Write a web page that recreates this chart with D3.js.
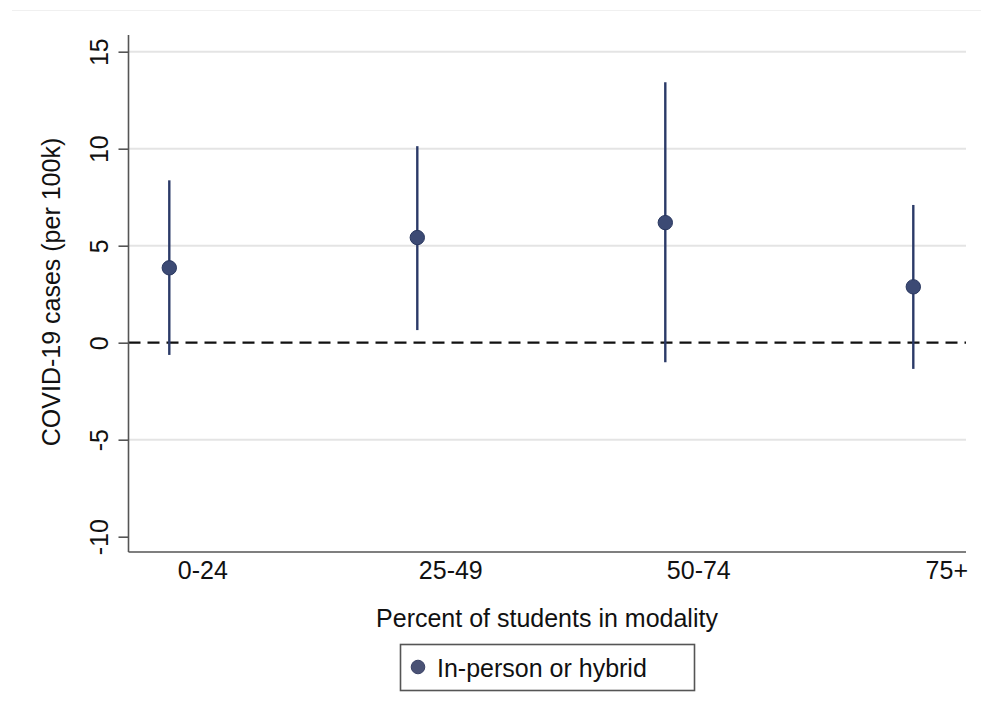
<!DOCTYPE html>
<html>
<head>
<meta charset="utf-8">
<script src="https://cdn.jsdelivr.net/npm/d3@7"></script>
<style>
  html, body { margin: 0; padding: 0; background: #ffffff; }
  svg { display: block; font-family: "Liberation Sans", Arial, sans-serif; }
</style>
</head>
<body>
<svg id="chart" width="981" height="719"></svg>
<script>
// ---- data ----
const categories = ["0-24", "25-49", "50-74", "75+"];
const estimates  = [3.86, 5.42, 6.19, 2.88];
const ciLower    = [-0.63, 0.65, -1.01, -1.35];
const ciUpper    = [8.37, 10.13, 13.43, 7.10];
const yTicks     = [-10, -5, 0, 5, 10, 15];
const gridTicks  = [-5, 5, 10, 15];
const seriesName = "In-person or hybrid";
const xTitle     = "Percent of students in modality";
const yTitle     = "COVID-19 cases (per 100k)";

// ---- layout ----
const svg = d3.select("#chart");
const plot = { left: 128.5, right: 966, top: 35, bottom: 552 };
const navy = "#2b3a68";
const dotFill = "#3c4a74";
const fontSize = 25;

const y = d3.scaleLinear().domain([-10, 15]).range([536.7, 51.7]);
const x = d3.scaleLinear().domain([0, categories.length - 1]).range([169.3, 913.3]);
const labelOffset = 33;

// faint outer border line at top
svg.append("line")
  .attr("x1", 12).attr("x2", 981).attr("y1", 10.5).attr("y2", 10.5)
  .attr("stroke", "#f0f0f0").attr("stroke-width", 1);

// gridlines
svg.append("g").selectAll("line").data(gridTicks).join("line")
  .attr("x1", plot.left).attr("x2", plot.right)
  .attr("y1", d => y(d)).attr("y2", d => y(d))
  .attr("stroke", "#e4e4e4").attr("stroke-width", 2);

// zero reference line (dashed)
svg.append("line")
  .attr("x1", plot.left).attr("x2", plot.right)
  .attr("y1", y(0)).attr("y2", y(0))
  .attr("stroke", "#111").attr("stroke-width", 2.2)
  .attr("stroke-dasharray", "12,7");

// y axis
const yAxis = d3.axisLeft(y).tickValues(yTicks).tickSize(10).tickPadding(6).tickFormat(d => String(d));
const gy = svg.append("g").attr("transform", `translate(${plot.left},0)`).call(yAxis);
gy.select(".domain").remove();
gy.selectAll(".tick line").attr("stroke", "#555").attr("stroke-width", 1.6);
gy.selectAll(".tick text")
  .attr("font-size", fontSize).attr("fill", "#111")
  .attr("x", null).attr("dy", null)
  .attr("text-anchor", "middle")
  .attr("transform", "translate(-20.5,0) rotate(-90)");
gy.append("line")
  .attr("x1", 0).attr("x2", 0).attr("y1", plot.top).attr("y2", plot.bottom)
  .attr("stroke", "#555").attr("stroke-width", 1.6);

// x axis line
svg.append("line")
  .attr("x1", plot.left).attr("x2", plot.right)
  .attr("y1", plot.bottom).attr("y2", plot.bottom)
  .attr("stroke", "#555").attr("stroke-width", 1.6);

// x axis labels (no tick marks)
const xAxis = d3.axisBottom(x).tickValues(d3.range(categories.length))
  .tickFormat(i => categories[i]).tickSize(0).tickPadding(0);
const gx = svg.append("g").attr("transform", `translate(${labelOffset},${plot.bottom})`).call(xAxis);
gx.select(".domain").remove();
gx.selectAll(".tick text").attr("font-size", fontSize).attr("fill", "#111")
  .attr("y", 27).attr("dy", null);

// axis titles
svg.append("text")
  .attr("x", 547).attr("y", 627)
  .attr("text-anchor", "middle").attr("font-size", fontSize).attr("fill", "#111")
  .text(xTitle);

svg.append("text")
  .attr("transform", `translate(60,292) rotate(-90)`)
  .attr("text-anchor", "middle").attr("font-size", fontSize).attr("fill", "#111")
  .text(yTitle);

// error bars
const idx = d3.range(categories.length);
svg.append("g").selectAll("line").data(idx).join("line")
  .attr("x1", i => x(i)).attr("x2", i => x(i))
  .attr("y1", i => y(ciUpper[i])).attr("y2", i => y(ciLower[i]))
  .attr("stroke", navy).attr("stroke-width", 2.4);

// points
svg.append("g").selectAll("circle").data(idx).join("circle")
  .attr("cx", i => x(i)).attr("cy", i => y(estimates[i]))
  .attr("r", 7.2)
  .attr("fill", dotFill).attr("stroke", "#2a3860").attr("stroke-width", 1);

// legend
const lg = svg.append("g");
lg.append("rect")
  .attr("x", 400.5).attr("y", 644.5).attr("width", 294).attr("height", 46)
  .attr("fill", "#fff").attr("stroke", "#555").attr("stroke-width", 1.6);
lg.append("circle")
  .attr("cx", 418).attr("cy", 667).attr("r", 6.8)
  .attr("fill", "#4a5275").attr("stroke", "#3a4266").attr("stroke-width", 1);
lg.append("text")
  .attr("x", 437).attr("y", 677)
  .attr("font-size", fontSize).attr("fill", "#111")
  .text(seriesName);
</script>
</body>
</html>
